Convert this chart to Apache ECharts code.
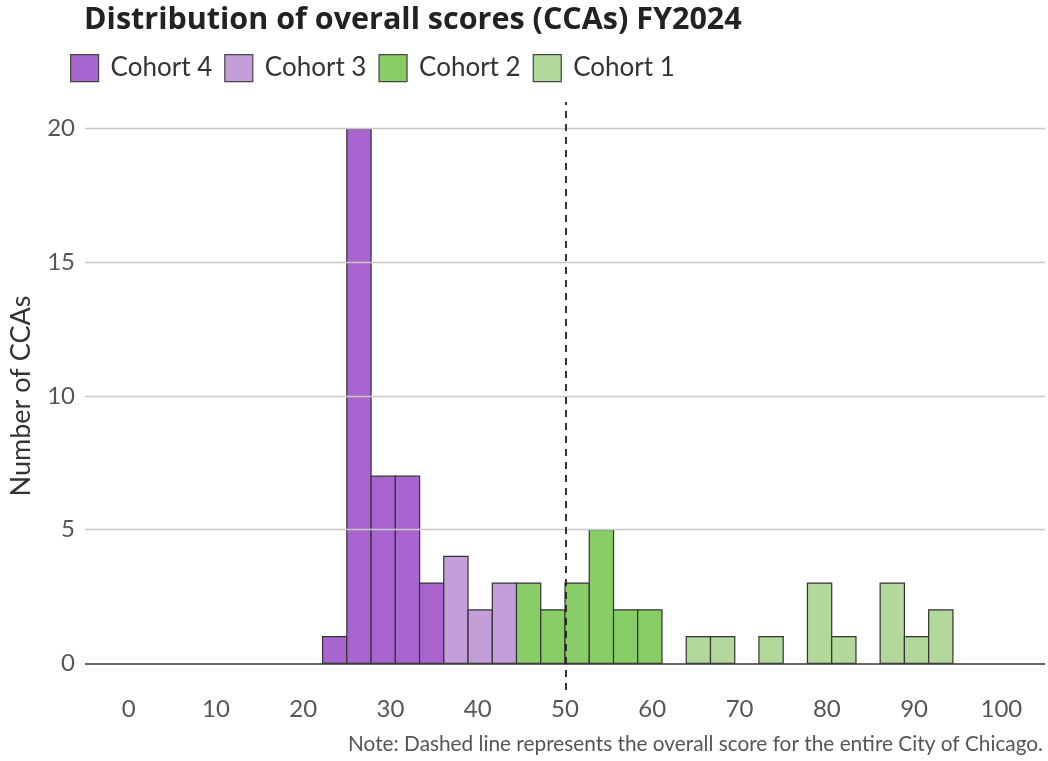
<!DOCTYPE html>
<html>
<head>
<meta charset="utf-8">
<script src="https://cdn.jsdelivr.net/npm/echarts@6/dist/echarts.min.js"></script>
<style>
html,body{margin:0;padding:0;background:#fff;}
#chart{width:1048px;height:761px;}
</style>
</head>
<body>
<div id="chart"></div>
<script>
// Histogram bins (left edge of each bin) and counts per cohort
const binWidth = 2.78;
const cohort4Bins = [22.22, 25.00, 27.78, 30.56, 33.33];
const cohort4Counts = [1, 20, 7, 7, 3];
const cohort3Bins = [36.11, 38.89, 41.67];
const cohort3Counts = [4, 2, 3];
const cohort2Bins = [44.44, 47.22, 50.00, 52.78, 55.56, 58.33];
const cohort2Counts = [3, 2, 3, 5, 2, 2];
const cohort1Bins = [63.89, 66.67, 72.22, 77.78, 80.56, 86.11, 88.89, 91.67];
const cohort1Counts = [1, 1, 1, 3, 1, 3, 1, 2];
const cityScore = 50.1;
const xTicks = [0, 10, 20, 30, 40, 50, 60, 70, 80, 90, 100];
const yTicks = [0, 5, 10, 15, 20];
const cohortNames = ['Cohort 4', 'Cohort 3', 'Cohort 2', 'Cohort 1'];
const cohortColors = ['#a864cf', '#c39ed8', '#88cd66', '#b3d89c'];

const FONT = 'Lato, "Open Sans", sans-serif';
const TITLE_FONT = '"Open Sans", Lato, sans-serif';

function binData(starts, counts) {
  return starts.map((s, i) => [s, s + binWidth, counts[i]]);
}
const allBins = [
  binData(cohort4Bins, cohort4Counts),
  binData(cohort3Bins, cohort3Counts),
  binData(cohort2Bins, cohort2Counts),
  binData(cohort1Bins, cohort1Counts)
];

function makeRender(color) {
  return function (params, api) {
    const p0 = api.coord([api.value(0), api.value(2)]);
    const p1 = api.coord([api.value(1), 0]);
    return {
      type: 'rect',
      shape: { x: p0[0], y: p0[1], width: p1[0] - p0[0], height: p1[1] - p0[1] },
      style: { fill: color, stroke: '#333333', lineWidth: 1.2 }
    };
  };
}

const series = cohortNames.map((name, i) => ({
  name: name,
  type: 'custom',
  renderItem: makeRender(cohortColors[i]),
  itemStyle: { color: cohortColors[i], borderColor: '#444', borderWidth: 1.2 },
  encode: { x: [0, 1], y: 2 },
  data: allBins[i],
  z: 3
}));

// gridlines, zero line and city reference line
series.push({
  name: 'refs',
  type: 'line',
  data: [],
  silent: true,
  z: 1,
  markLine: {
    symbol: 'none',
    silent: true,
    label: { show: false },
    animation: false,
    data: yTicks.map(v => ({
      yAxis: v,
      lineStyle: v === 0
        ? { color: '#333333', width: 1.6, type: 'solid' }
        : { color: '#c8c8c8', width: 1.4, type: 'solid' }
    }))
  }
});
series.push({
  name: 'city',
  type: 'line',
  data: [],
  silent: true,
  z: 5,
  markLine: {
    symbol: 'none',
    silent: true,
    label: { show: false },
    animation: false,
    data: [{ xAxis: cityScore, lineStyle: { color: '#222', width: 1.8, type: [7, 6] } }]
  }
});

const chart = echarts.init(document.getElementById('chart'));
chart.setOption({
  animation: false,
  backgroundColor: '#ffffff',
  title: {
    text: 'Distribution of overall scores (CCAs) FY2024',
    left: 84, top: 5, padding: 0,
    textStyle: { fontFamily: TITLE_FONT, fontWeight: 'bold', fontSize: 30.5, color: '#222' }
  },
  legend: {
    data: cohortNames,
    left: 70, top: 54, padding: 0,
    itemWidth: 28, itemHeight: 27,
    itemGap: 12,
    icon: 'rect',
    itemStyle: { borderColor: '#444', borderWidth: 1.2 },
    textStyle: { fontFamily: FONT, fontSize: 26, color: '#333', padding: [0, 0, 0, 7] }
  },
  grid: { left: 85, right: 3, top: 102, bottom: 71, containLabel: false },
  xAxis: {
    type: 'value',
    min: -5, max: 105,
    axisLine: { show: false },
    axisTick: { show: false },
    splitLine: { show: false },
    axisLabel: {
      customValues: xTicks,
      margin: 7,
      fontFamily: FONT, fontSize: 24, color: '#555'
    }
  },
  yAxis: {
    type: 'value',
    min: -1, max: 21,
    name: 'Number of CCAs',
    nameLocation: 'middle',
    nameGap: 50,
    nameTextStyle: { fontFamily: FONT, fontSize: 27, color: '#333' },
    axisLine: { show: false },
    axisTick: { show: false },
    splitLine: { show: false },
    axisLabel: {
      customValues: yTicks,
      margin: 10,
      fontFamily: FONT, fontSize: 24, color: '#555'
    }
  },
  graphic: [{
    type: 'text',
    right: 5, top: 734,
    style: {
      text: 'Note: Dashed line represents the overall score for the entire City of Chicago.',
      fontFamily: FONT, fontSize: 20.8, fill: '#555'
    }
  }],
  series: series
});
</script>
</body>
</html>
